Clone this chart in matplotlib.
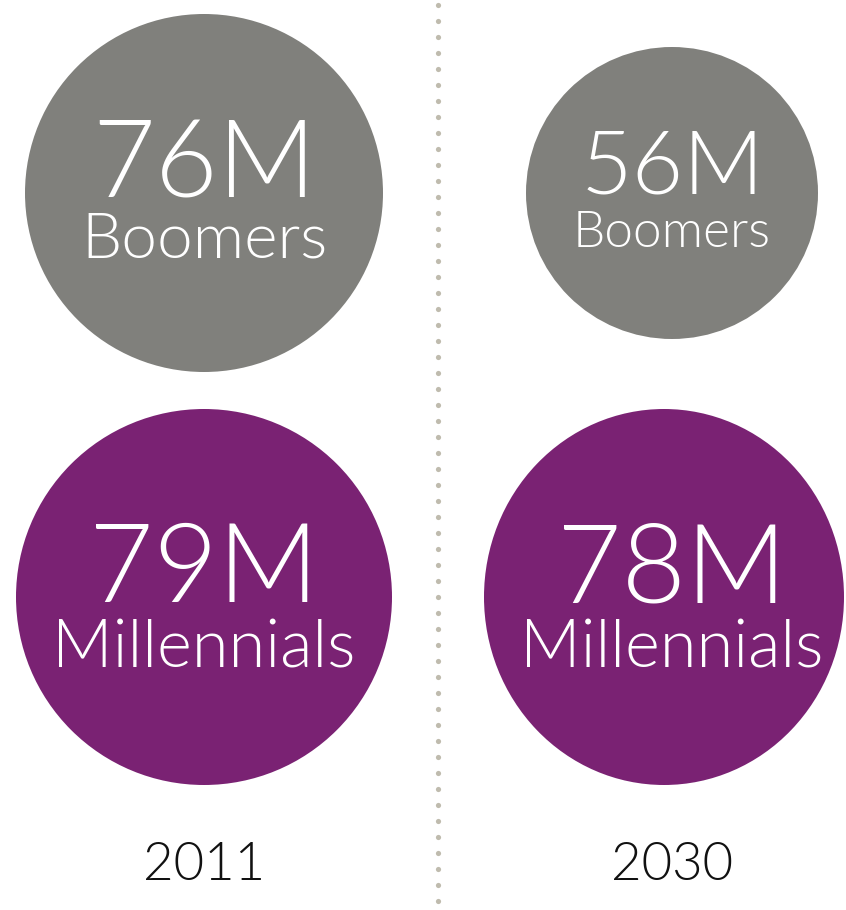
import matplotlib
matplotlib.use('Agg')
import matplotlib.pyplot as plt
from matplotlib.patches import Ellipse
import numpy as np

# data
years = ['2011', '2030']
generations = ['Boomers', 'Millennials']
values = [[76, 79], [56, 78]]  # millions, per year: [boomers, millennials]

GRAY = '#80807c'
PURPLE = '#7a2273'
DOT = '#bfbbae'

W, H = 846, 910
fig = plt.figure(figsize=(W / 100, H / 100), dpi=100)
ax = fig.add_axes([0, 0, 1, 1])
ax.set_xlim(0, W)
ax.set_ylim(H, 0)
ax.axis('off')

# layout (pixels)
col_x = [204, 672]
row_y = [193, 597]
radii = {(0, 0): (179, 179), (0, 1): (188, 188),
         (1, 0): (146, 146), (1, 1): (180, 188)}
col_cx = {(1, 1): 664}
num_size = {(0, 0): 78, (0, 1): 80, (1, 0): 64, (1, 1): 80}
lab_size = {(0, 0): 46, (0, 1): 48, (1, 0): 37, (1, 1): 48}
num_dy = {(0, 0): -26, (0, 1): -25, (1, 0): -24, (1, 1): -25}
lab_dy = {(0, 0): 47, (0, 1): 53, (1, 0): 40, (1, 1): 53}

font = ['Lato', 'DejaVu Sans']

for i, year in enumerate(years):
    for j, gen in enumerate(generations):
        cx = col_cx.get((i, j), col_x[i])
        cy = row_y[j]
        rx, ry = radii[(i, j)]
        ax.add_patch(Ellipse((cx, cy), 2 * rx, 2 * ry,
                             color=GRAY if j == 0 else PURPLE, lw=0))
        ax.text(col_x[i], cy + num_dy[(i, j)], f'{values[i][j]}M',
                ha='center', va='center', color='white',
                fontsize=num_size[(i, j)], family=font, weight=300)
        ax.text(col_x[i], cy + lab_dy[(i, j)], gen,
                ha='center', va='center', color='white',
                fontsize=lab_size[(i, j)], family=font, weight=300)
    ax.text(col_x[i], 866, year, ha='center', va='center', color='#111111',
            fontsize=38, family=font, weight=300)

# dotted divider
dots_y = np.arange(5, H, 16)
ax.scatter(np.full(len(dots_y), 438), dots_y, s=14, color=DOT, lw=0)

fig.savefig('out.png', dpi=100)
